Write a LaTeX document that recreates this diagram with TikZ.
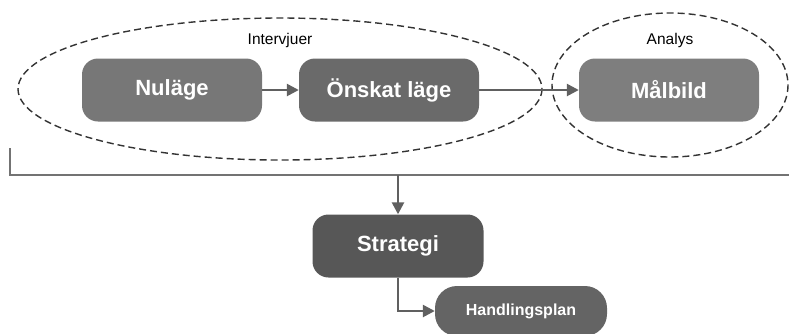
\documentclass[tikz,border=0pt]{standalone}
\usepackage{fontspec}
\setmainfont{Liberation Sans}
\usetikzlibrary{arrows.meta,positioning}

\definecolor{boxA}{HTML}{777777}
\definecolor{boxB}{HTML}{6A6A6A}
\definecolor{boxC}{HTML}{7E7E7E}
\definecolor{boxD}{HTML}{575757}
\definecolor{boxE}{HTML}{646464}
\definecolor{linegray}{HTML}{606060}

\tikzset{
    bigbox/.style={rounded corners=16pt, text=white, font=\bfseries\fontsize{22}{24}\selectfont,
        minimum width=180pt, minimum height=63pt, inner sep=0pt},
    smallbox/.style={rounded corners=22pt, fill=boxE, text=white, font=\bfseries\fontsize{16}{18}\selectfont,
        minimum width=172pt, minimum height=50pt, inner sep=0pt},
    conn/.style={draw=linegray, line width=2.5pt, -{Triangle[length=12pt,width=12pt]}},
    group/.style={draw=black!80, line width=1.4pt, dash pattern=on 7pt off 4pt},
    grouplabel/.style={font=\fontsize{15.5}{18}\selectfont}
}

\begin{document}
\begin{tikzpicture}[x=1pt, y=-1pt]
    \useasboundingbox (0,0) rectangle (789,333);
    \node [bigbox, fill=boxA] (nulage) at (172,90) {Nuläge};
    \node [bigbox, fill=boxB] (onskat) at (389,90) {Önskat läge};
    \node [bigbox, fill=boxC] (malbild) at (669,90) {Målbild};
    \draw [group] (280,89) ellipse [x radius=262, y radius=71];
    \draw [group] (670,85) ellipse [x radius=118, y radius=72];
    \node [grouplabel] (intervjuer) at (280,40) {Intervjuer};
    \node [grouplabel] (analys) at (670,40) {Analys};
    \draw [conn] (nulage) -- (onskat);
    \draw [conn] (onskat) -- (malbild);
    \coordinate (bl) at (10,148);
    \coordinate (br) at (789,175);
    \draw [draw=gray!90!black, line width=2pt] (bl) |- (br);
    \node [bigbox, fill=boxD, minimum width=171pt] (strategi) at (398,246) {Strategi};
    \node [smallbox] (handling) at (521,311) {Handlingsplan};
    \coordinate (split) at (strategi.north |- br);
    \draw [conn] (split) -- (strategi);
    \draw [conn] (strategi) |- (handling);
\end{tikzpicture}
\end{document}
